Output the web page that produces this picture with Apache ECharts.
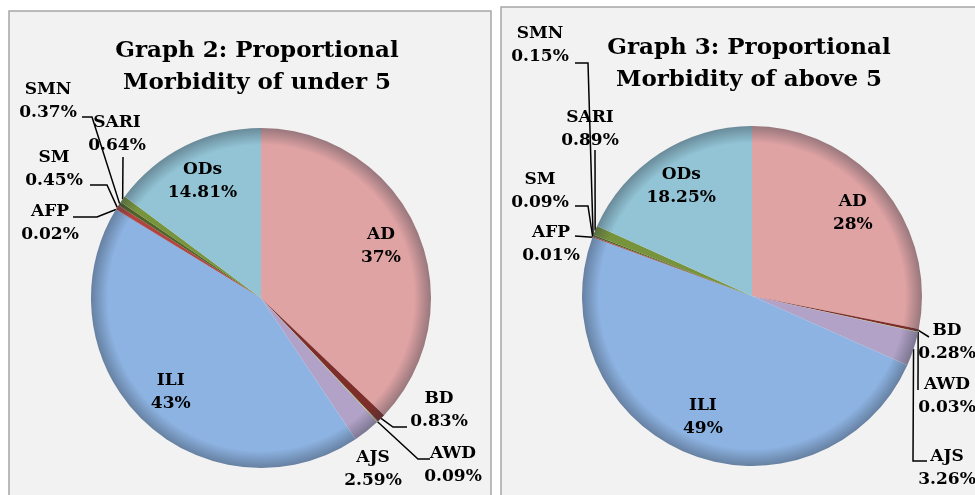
<!DOCTYPE html>
<html>
<head>
<meta charset="utf-8">
<script src="https://cdn.jsdelivr.net/npm/echarts@6/dist/echarts.min.js"></script>
<style>
  html, body { margin: 0; padding: 0; background: #fff; }
  #chart { width: 975px; height: 495px; }
</style>
</head>
<body>
<div id="chart"></div>
<script>
// morbidity categories, clockwise from 12 o'clock
const categories = ['AD', 'BD', 'AWD', 'AJS', 'ILI', 'AFP', 'SM', 'SMN', 'SARI', 'ODs']
const under5Values = [37.1, 0.83, 0.09, 2.59, 43.1, 0.02, 0.45, 0.37, 0.64, 14.81]
const under5Labels = ['37%', '0.83%', '0.09%', '2.59%', '43%', '0.02%', '0.45%', '0.37%', '0.64%', '14.81%']
const above5Values = [28.1, 0.28, 0.03, 3.26, 48.94, 0.01, 0.09, 0.15, 0.89, 18.25]
const above5Labels = ['28%', '0.28%', '0.03%', '3.26%', '49%', '0.01%', '0.09%', '0.15%', '0.89%', '18.25%']
const insideNames = ['AD', 'ILI', 'ODs']

const sliceColors = ['#E0A3A4', '#7E2E2A', '#9BBB59', '#B2A2C7', '#8DB3E2', '#24406B', '#B3433F', '#4F6228', '#77933C', '#92C4D5']
const FONT = 'DejaVu Serif'
const R = 170

// where the small labels sit (Excel-like manual placement) and their elbow lines
const leftPos = {
  BD:   { x: 439, y: 410, line: [[393, 427], [407, 427]] },
  AWD:  { x: 453, y: 465, line: [[418, 459], [430, 459]] },
  AJS:  { x: 373, y: 469, line: null },
  AFP:  { x: 50, y: 223, line: [[97, 217], [73, 217]] },
  SM:   { x: 54, y: 169, line: [[107, 185], [90, 185]] },
  SMN:  { x: 48, y: 101, line: [[92, 117], [82, 117]] },
  SARI: { x: 117, y: 134, line: [[123, 157]] }
}
const rightPos = {
  BD:   { x: 947, y: 342, line: [[929, 337]] },
  AWD:  { x: 947, y: 396, line: [[918, 390]] },
  AJS:  { x: 947, y: 468, line: [[913, 461], [927, 461]] },
  AFP:  { x: 551, y: 244, line: [[575, 236]] },
  SM:   { x: 540, y: 191, line: [[588, 206], [575, 206]] },
  SMN:  { x: 540, y: 45, line: [[588, 63], [575, 63]] },
  SARI: { x: 590, y: 129, line: [[595, 150]] }
}

// darker rim, like the inner shadow on the excel pie
function shade(base, cx, cy) {
  const rim = echarts.color.lerp(0.4, [base, '#2B3440'])
  return {
    type: 'radial', x: cx, y: cy, r: R, global: true,
    colorStops: [
      { offset: 0, color: base },
      { offset: 0.9, color: base },
      { offset: 1, color: rim }
    ]
  }
}

function mainData(values, cx, cy, posMap) {
  return values.map((v, i) => ({
    name: categories[i],
    value: v,
    itemStyle: { color: shade(sliceColors[i], cx, cy) },
    label: { show: !!posMap[categories[i]] },
    labelLine: { show: !!(posMap[categories[i]] && posMap[categories[i]].line) }
  }))
}

function overlayData(values) {
  return values.map((v, i) => ({
    name: categories[i],
    value: v,
    label: { show: insideNames.includes(categories[i]) }
  }))
}

function layoutFor(posMap) {
  return function (params) {
    const pos = posMap[categories[params.dataIndex]]
    if (!pos) return {}
    const res = { x: pos.x, y: pos.y, align: 'center', verticalAlign: 'middle' }
    if (pos.line && params.labelLinePoints) {
      res.labelLinePoints = [params.labelLinePoints[0]].concat(pos.line)
    }
    return res
  }
}

const labelText = {
  fontFamily: FONT,
  fontWeight: 'bold',
  fontSize: 17,
  lineHeight: 23,
  color: '#000'
}

function pieSeries(values, labels, cx, cy, posMap) {
  return [
    {
      type: 'pie',
      center: [cx, cy],
      radius: [0, R],
      startAngle: 90,
      clockwise: true,
      avoidLabelOverlap: false,
      animation: false,
      silent: true,
      itemStyle: { borderWidth: 0 },
      label: Object.assign({
        position: 'outside',
        formatter: p => p.name + '\n' + labels[p.dataIndex]
      }, labelText),
      labelLine: { length: 5, length2: 5, smooth: false, lineStyle: { color: '#000', width: 1.5 } },
      labelLayout: layoutFor(posMap),
      data: mainData(values, cx, cy, posMap)
    },
    {
      type: 'pie',
      center: [cx, cy],
      radius: [R / 2, R],
      startAngle: 90,
      clockwise: true,
      animation: false,
      silent: true,
      itemStyle: { color: 'rgba(0,0,0,0)', borderWidth: 0 },
      label: Object.assign({
        position: 'inside',
        formatter: p => p.name + '\n' + labels[p.dataIndex]
      }, labelText),
      labelLine: { show: false },
      data: overlayData(values)
    }
  ]
}

const titleText = { fontFamily: FONT, fontWeight: 'bold', fontSize: 23, lineHeight: 32, color: '#000' }

const chart = echarts.init(document.getElementById('chart'))
chart.setOption({
  backgroundColor: '#fff',
  graphic: [
    { type: 'rect', z: -10, shape: { x: 9, y: 11, width: 482, height: 500 },
      style: { fill: '#F2F2F2', stroke: '#A6A6A6', lineWidth: 1.5 } },
    { type: 'rect', z: -10, shape: { x: 501, y: 7, width: 480, height: 500 },
      style: { fill: '#F2F2F2', stroke: '#A6A6A6', lineWidth: 1.5 } }
  ],
  title: [
    {
      text: 'Graph 2: Proportional\nMorbidity of under 5',
      left: 252, top: 30, textAlign: 'center', textStyle: titleText
    },
    {
      text: 'Graph 3: Proportional\nMorbidity of above 5',
      left: 744, top: 27, textAlign: 'center', textStyle: titleText
    }
  ],
  series: [].concat(
    pieSeries(under5Values, under5Labels, 261, 298, leftPos),
    pieSeries(above5Values, above5Labels, 752, 296, rightPos)
  )
})
</script>
</body>
</html>
